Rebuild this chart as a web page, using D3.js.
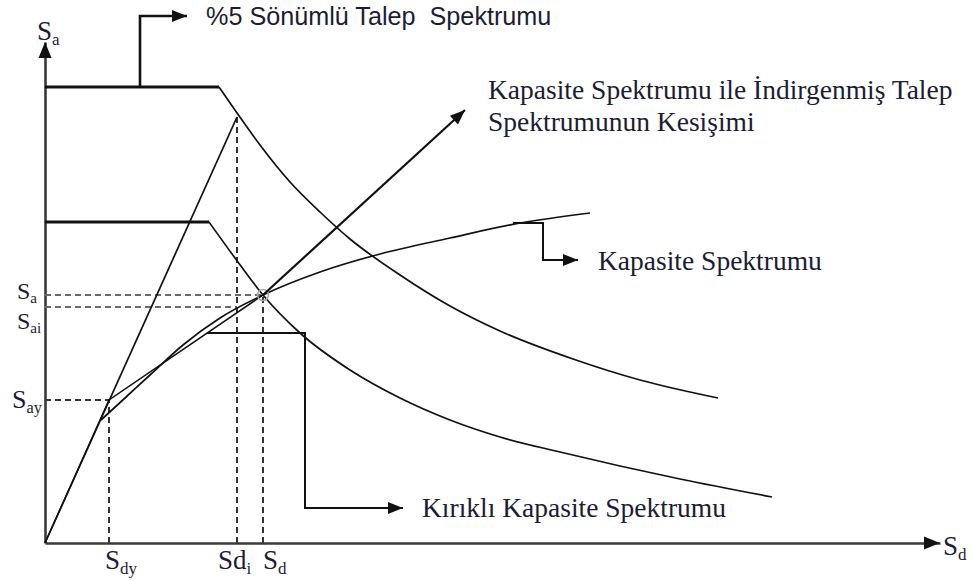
<!DOCTYPE html>
<html><head><meta charset="utf-8">
<script src="https://cdn.jsdelivr.net/npm/d3@7"></script>
<style>
html,body{margin:0;padding:0;background:#fff;}
svg{display:block;}
text{font-family:"Liberation Serif","Times New Roman",serif;fill:#1c1c34;}
</style>
</head><body><div id="chart"></div>
<script>
// ---- data (Sd, Sa in drawing units) ----
const demandSd  = [0, 17.4, 19.2, 21.5, 24.5, 27.5, 30.5, 35.5, 40.5, 45.5, 52.8, 59.5, 67.3];
const demandSa  = [45.6, 45.6, 43.0, 39.8, 36.1, 33.1, 30.4, 26.8, 23.7, 21.2, 18.4, 16.3, 14.5];
const reducedSd = [0, 16.4, 19.0, 21.8, 25.5, 30.5, 35.5, 40.5, 45.5, 51.5, 57.5, 63.5, 72.7];
const reducedSa = [32.1, 32.1, 28.5, 24.8, 21.0, 17.3, 14.5, 12.3, 10.6, 9.1, 7.7, 6.4, 4.6];
const capacitySd = [5.6, 8.0, 10.5, 13.8, 17.5, 21.8, 27.5, 33.5, 40.5, 47.0, 54.5];
const capacitySa = [12.3, 14.5, 16.8, 19.8, 22.5, 24.8, 27.1, 28.9, 30.5, 31.9, 33.0];
const elasticSd = [0, 19.2];
const elasticSa = [0, 42.6];
const bilinearSd = [0, 6.4, 21.8];
const bilinearSa = [0, 14.3, 24.8];
// key points
const SdyVal = 6.4, SayVal = 14.3, SdiVal = 19.2, SdVal = 21.8, SaVal = 24.8, SaiVal = 23.6;
// tick labels
const xTickValues = [SdyVal, SdiVal, SdVal];
const xTickMain = ["S", "Sd", "S"];
const xTickSub  = ["dy", "i", "d"];
const yTickValues = [SaVal, SaiVal, SayVal];
const yTickMain = ["S", "S", "S"];
const yTickSub  = ["a", "ai", "ay"];
// annotation texts
const titleDemand = "%5 Sönümlü Talep  Spektrumu";
const titleCross1 = "Kapasite Spektrumu ile İndirgenmiş Talep";
const titleCross2 = "Spektrumunun Kesişimi";
const titleCapacity = "Kapasite Spektrumu";
const titleBilinear = "Kırıklı Kapasite Spektrumu";
// annotation leader paths (data units)
const calloutDemandSd = [9.5, 9.5, 14.2];
const calloutDemandSa = [45.6, 52.7, 52.7];
const calloutCrossSd = [21.8, 42.0];
const calloutCrossSa = [24.8, 43.3];
const calloutCapSd = [46.8, 49.8, 49.8, 53.3];
const calloutCapSa = [32.0, 32.0, 28.3, 28.3];
const calloutBilSd = [16.2, 26.0, 26.0, 35.8];
const calloutBilSa = [21.0, 21.0, 3.5, 3.5];

// ---- layout ----
const W = 972, H = 581;
const svg = d3.select("#chart").append("svg").attr("width", W).attr("height", H);
const x = d3.scaleLinear().domain([0, 89.5]).range([45, 940]);
const y = d3.scaleLinear().domain([0, 50.1]).range([543, 42]);
const zip = (a, b) => a.map((v, i) => [v, b[i]]);
const lin = d3.line().x(d => x(d[0])).y(d => y(d[1]));
const smooth = d3.line().x(d => x(d[0])).y(d => y(d[1])).curve(d3.curveMonotoneX);

function arrowHead(tip, from, len = 15, half = 6, color = "#111") {
  const tx = x(tip[0]), ty = y(tip[1]);
  const fx = x(from[0]), fy = y(from[1]);
  const a = Math.atan2(ty - fy, tx - fx);
  const bx = tx - len * Math.cos(a), by = ty - len * Math.sin(a);
  const px = -Math.sin(a) * half, py = Math.cos(a) * half;
  svg.append("path")
    .attr("d", `M${tx},${ty}L${bx + px},${by + py}L${bx - px},${by - py}Z`)
    .attr("fill", color);
}

// axes (no ticks)
const gx = svg.append("g").attr("transform", `translate(0,${y(0)})`)
  .call(d3.axisBottom(x).tickValues([]).tickSizeOuter(0));
const gy = svg.append("g").attr("transform", `translate(${x(0)},0)`)
  .call(d3.axisLeft(y).tickValues([]).tickSizeOuter(0));
[gx, gy].forEach(g => g.select(".domain").attr("stroke", "#3a3a3a").attr("stroke-width", 2.6));
arrowHead([89.5, 0], [80, 0], 16, 6.5, "#111");
arrowHead([0, 50.1], [0, 40], 16, 6.5, "#111");

// dashed guides
const dashes = [
  {p: [[0, SaVal], [SdVal, SaVal]], c: "#6a6a6a"},
  {p: [[0, SaiVal], [SdiVal, SaiVal]], c: "#6a6a6a"},
  {p: [[0, SayVal], [SdyVal, SayVal]], c: "#333"},
  {p: [[SdyVal, 0], [SdyVal, SayVal]], c: "#333"},
  {p: [[SdiVal, 0], [SdiVal, elasticSa[1]]], c: "#333"},
  {p: [[SdVal, 0], [SdVal, SaVal]], c: "#333"}
];
dashes.forEach(d => svg.append("path").attr("d", lin(d.p)).attr("fill", "none")
  .attr("stroke", d.c).attr("stroke-width", 2).attr("stroke-dasharray", "6,4"));

// curves
const demand = zip(demandSd, demandSa);
const reduced = zip(reducedSd, reducedSa);
svg.append("path").attr("d", lin(demand.slice(0, 2))).attr("fill", "none").attr("stroke", "#111").attr("stroke-width", 3.2);
svg.append("path").attr("d", smooth(demand.slice(1))).attr("fill", "none").attr("stroke", "#111").attr("stroke-width", 1.7);
svg.append("path").attr("d", lin(reduced.slice(0, 2))).attr("fill", "none").attr("stroke", "#111").attr("stroke-width", 3.2);
svg.append("path").attr("d", smooth(reduced.slice(1))).attr("fill", "none").attr("stroke", "#111").attr("stroke-width", 1.7);
svg.append("path").attr("d", lin(zip(elasticSd, elasticSa))).attr("fill", "none").attr("stroke", "#111").attr("stroke-width", 1.7);
svg.append("path").attr("d", smooth(zip(capacitySd, capacitySa))).attr("fill", "none").attr("stroke", "#111").attr("stroke-width", 1.7);
svg.append("path").attr("d", lin(zip(bilinearSd, bilinearSa))).attr("fill", "none").attr("stroke", "#111").attr("stroke-width", 1.5);

// intersection marker
svg.append("circle").attr("cx", x(SdVal)).attr("cy", y(SaVal)).attr("r", 5.5)
  .attr("fill", "none").attr("stroke", "#a8a8a8").attr("stroke-width", 1.6);

// callouts
function callout(sd, sa, w) {
  const pts = zip(sd, sa);
  svg.append("path").attr("d", lin(pts)).attr("fill", "none").attr("stroke", "#111").attr("stroke-width", w);
  arrowHead(pts[pts.length - 1], pts[pts.length - 2], 15, 6);
}
callout(calloutDemandSd, calloutDemandSa, 2.6);
callout(calloutCrossSd, calloutCrossSa, 2.2);
callout(calloutCapSd, calloutCapSa, 2);
callout(calloutBilSd, calloutBilSa, 2);

// annotation texts
function label(txt, sd, sa, fs, family) {
  const t = svg.append("text").attr("x", x(sd)).attr("y", y(sa)).attr("font-size", fs)
    .style("white-space", "pre").attr("xml:space", "preserve").text(txt);
  if (family) t.style("font-family", family);
}
label(titleDemand, 16.1, 51.8, 25.2, '"Liberation Sans", Arial, sans-serif');
label(titleCross1, 44.3, 44.4, 27.5);
label(titleCross2, 44.3, 41.2, 27.5);
label(titleCapacity, 55.3, 27.3, 27.5);
label(titleBilinear, 37.7, 2.6, 27.5);

// axis symbol labels
function symbol(px, py, main, sub, fs) {
  const t = svg.append("text").attr("x", px).attr("y", py).attr("font-size", fs);
  t.append("tspan").text(main);
  t.append("tspan").attr("font-size", fs * 0.63).attr("dy", fs * 0.18).text(sub);
}
const xTickDx = [-4, -19, 0];
xTickValues.forEach((v, i) => symbol(x(v) + xTickDx[i], y(0) + 26, xTickMain[i], xTickSub[i], 27));
const yTickDy = [4, 22, 8];
const yTickX = [17, 17, 12];
const yTickFs = [24, 24, 26];
yTickValues.forEach((v, i) => symbol(yTickX[i], y(v) + yTickDy[i], yTickMain[i], yTickSub[i], yTickFs[i]));
symbol(x(0) - 8, y(50.1) - 2, "S", "a", 27);
symbol(x(89.5) + 3, y(0) + 12, "S", "d", 27);
</script>
</body></html>
